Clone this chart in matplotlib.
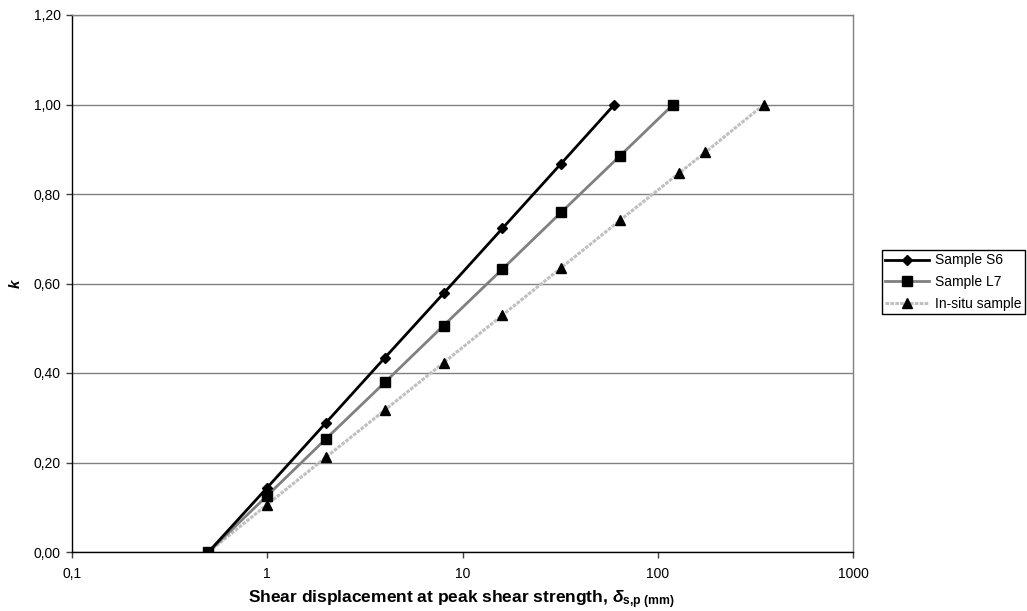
import matplotlib
matplotlib.use("Agg")
import matplotlib.pyplot as plt
from matplotlib.ticker import FixedLocator, FixedFormatter, NullLocator

plt.rcParams['font.family'] = ['Liberation Sans', 'DejaVu Sans']
plt.rcParams['mathtext.fontset'] = 'custom'
plt.rcParams['mathtext.rm'] = 'Liberation Sans:bold'
plt.rcParams['mathtext.it'] = 'Liberation Sans:italic:bold'
plt.rcParams['mathtext.bf'] = 'Liberation Sans:bold'

s6_x = [0.5, 1, 2, 4, 8, 16, 32, 60]
s6_y = [0.0, 0.144, 0.289, 0.434, 0.578, 0.723, 0.868, 1.0]
l7_x = [0.5, 1, 2, 4, 8, 16, 32, 64, 120]
l7_y = [0.0, 0.126, 0.253, 0.379, 0.506, 0.632, 0.759, 0.885, 1.0]
insitu_x = [0.5, 1, 2, 4, 8, 16, 32, 64, 128, 175, 350]
insitu_y = [0.0, 0.106, 0.212, 0.317, 0.423, 0.529, 0.635, 0.741, 0.846, 0.893, 1.0]

x_ticks = [0.1, 1, 10, 100, 1000]
x_tick_labels = ['0,1', '1', '10', '100', '1000']
y_ticks = [0.0, 0.2, 0.4, 0.6, 0.8, 1.0, 1.2]
y_tick_labels = ['0,00', '0,20', '0,40', '0,60', '0,80', '1,00', '1,20']

W, H = 1027, 611
fig = plt.figure(figsize=(W/100, H/100), dpi=100)
ax = fig.add_axes([72/W, 1 - 552/H, (853-72)/W, (552-15)/H])

ax.plot(s6_x, s6_y, color='black', lw=2, marker='D', ms=5, label='Sample S6', zorder=5)
ax.plot(l7_x, l7_y, color='#808080', lw=2, marker='s', ms=6.5, mfc='black', mec='black',
        label='Sample L7', zorder=4)
ax.plot(insitu_x, insitu_y, color='#c0c0c0', lw=2.2, ls=(0, (1.2, 0.4)), marker='^', ms=6.5,
        mfc='black', mec='black', label='In-situ sample', zorder=3)

ax.set_xscale('log')
ax.set_xlim(0.1, 1000)
ax.set_ylim(0, 1.2)
ax.xaxis.set_major_locator(FixedLocator(x_ticks))
ax.xaxis.set_major_formatter(FixedFormatter(x_tick_labels))
ax.xaxis.set_minor_locator(NullLocator())
ax.yaxis.set_major_locator(FixedLocator(y_ticks))
ax.yaxis.set_major_formatter(FixedFormatter(y_tick_labels))

ax.grid(axis='y', color='#808080', lw=1)
ax.set_axisbelow(True)
ax.tick_params(axis='both', direction='out', length=4, width=1, labelsize=10,
               color='#404040')
ax.tick_params(axis='x', pad=7)
ax.tick_params(axis='y', pad=4)
for side in ['top', 'right']:
    ax.spines[side].set_color('#808080')
    ax.spines[side].set_linewidth(1)
for side in ['left', 'bottom']:
    ax.spines[side].set_color('black')
    ax.spines[side].set_linewidth(1)

fig.text(461/W, 1 - 603/H,
         r'Shear displacement at peak shear strength, $\mathit{\delta}_{\mathbf{s{,}p\ (mm)}}$',
         fontsize=12.5, fontweight='bold', ha='center', va='baseline')
ax.set_ylabel('k', fontsize=11, fontweight='bold', fontstyle='italic', labelpad=8)

leg = ax.legend(loc='upper left', bbox_to_anchor=(882/W, 1 - 250/H),
                bbox_transform=fig.transFigure, fontsize=10, frameon=True, fancybox=False,
                edgecolor='black', framealpha=1, borderpad=0.25, labelspacing=0.55,
                handlelength=3.1, handletextpad=0.5, borderaxespad=0)
leg.get_frame().set_linewidth(1)

fig.savefig('out.png', dpi=100)
